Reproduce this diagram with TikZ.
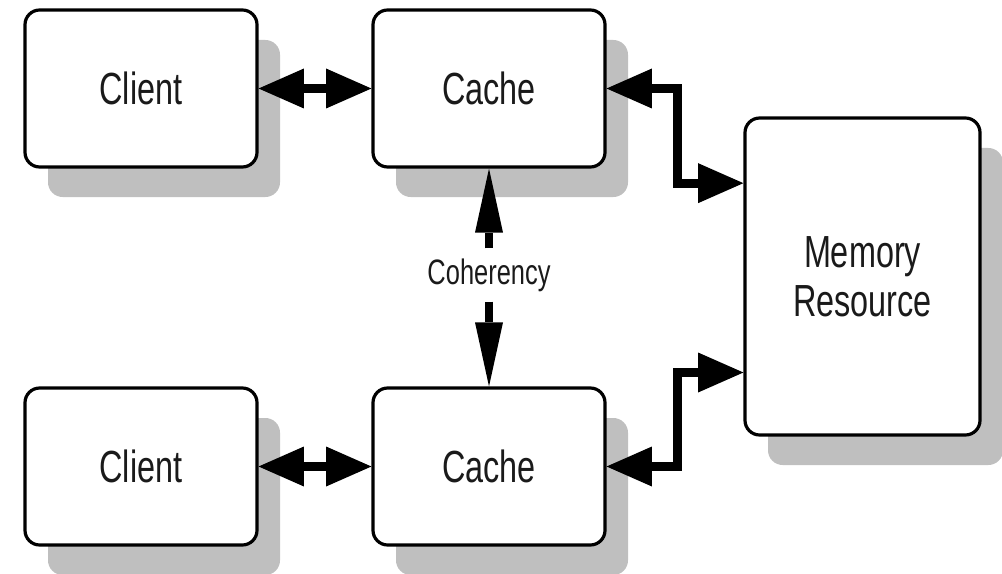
\documentclass[tikz,border=0pt]{standalone}
\usepackage{fontspec}
\setmainfont{Liberation Sans}
\newfontfamily\narrowsf[FakeStretch=0.72]{Liberation Sans}
\usetikzlibrary{arrows.meta,shadows}
\definecolor{Shade}{HTML}{BFBFBF}
\definecolor{Ink}{HTML}{1A1A1A}

\begin{document}
\begin{tikzpicture}[x=.75pt,y=-.75pt,
    unit/.style={draw,line width=2.4pt,rounded corners=11pt,fill=white,text=Ink,
      minimum width=174pt,minimum height=117.75pt,align=center,
      font=\narrowsf\fontsize{33.75}{37}\selectfont,
      drop shadow={shadow xshift=17.25pt,shadow yshift=-22.5pt,fill=Shade,opacity=1}},
    link/.style={line width=7pt,line join=miter,{Triangle[length=34pt,width=30pt,line width=0pt]}-{Triangle[length=34pt,width=30pt,line width=0pt]}},
    sync/.style={line width=6.5pt,-{Triangle[length=48pt,width=21pt,line width=0pt]}}]
  \useasboundingbox(0,0)rectangle(1002,574);
  % boxes
  \node[unit](client1)at(141,88.5){Client};
  \node[unit](cache1)at(489,88.5){Cache};
  \node[unit](client2)at(141,466.5){Client};
  \node[unit](cache2)at(489,466.5){Cache};
  \node[unit,minimum width=176.25pt,minimum height=237.75pt](mem)at(862.5,276.5){Memory\\Resource};
  % connectors
  \draw[link](client1.east)--(cache1.west);
  \draw[link](client2.east)--(cache2.west);
  \draw[link](cache1.east)--++(71,0)|-([yshift=70pt]mem.west);
  \draw[link](cache2.east)--++(71,0)|-([yshift=-72pt]mem.west);
  \node[inner sep=7.5pt,text=Ink,font=\narrowsf\fontsize{26.5}{29}\selectfont](coh)at(489,275){Coherency};
  \draw[sync](coh.north)--(cache1.south);
  \draw[sync](coh.south)--(cache2.north);
\end{tikzpicture}
\end{document}
